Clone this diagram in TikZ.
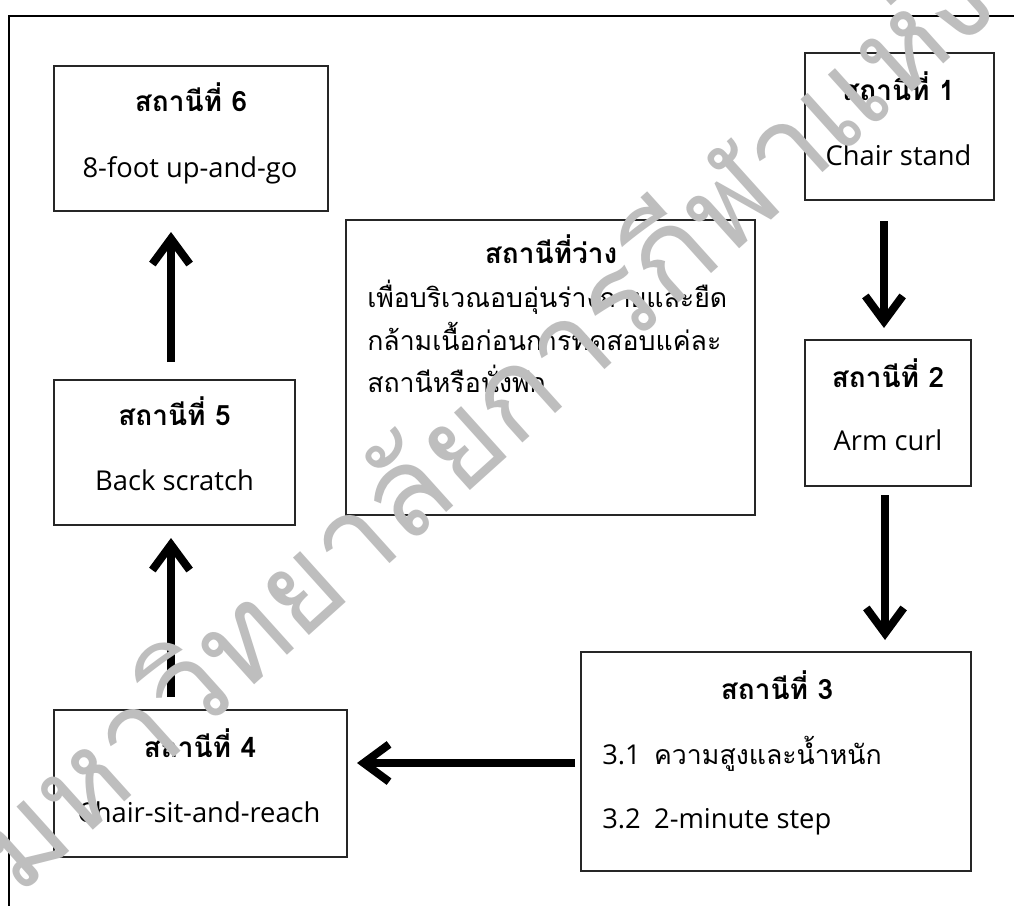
\documentclass[tikz,border=0pt]{standalone}
\usepackage{fontspec}
\setmainfont{Open Sans}
\newfontfamily\thai[Script=Thai]{Loma}
\usetikzlibrary{arrows.meta}
\definecolor{wmgray}{RGB}{190,190,190}
\begin{document}
\begin{tikzpicture}[x=0.75pt,y=-0.75pt,
  box/.style={draw=black!85, line width=0.9pt, rectangle, inner sep=0pt, outer sep=0pt},
  ttl/.style={anchor=base, font=\thai\bfseries\fontsize{21pt}{24pt}\selectfont, inner sep=0pt},
  sub/.style={anchor=base, font=\fontsize{20.5pt}{24pt}\selectfont, inner sep=0pt},
  thl/.style={anchor=base west, font=\thai\fontsize{20pt}{24pt}\selectfont, inner sep=0pt},
  arr/.style={line width=6pt, -{Straight Barb[length=19pt, width=28pt]}},
  wm/.style={font=\thai\fontsize{92pt}{110pt}\selectfont, text=wmgray, inner sep=0pt}]
\useasboundingbox (0,0) rectangle (1014,906);
\fill[white] (0,0) rectangle (1014,906);
% outer frame
\draw[line width=1pt] (9,906) -- (9,16) -- (1014,16);
% boxes
\node[box, minimum width=205.5pt, minimum height=108.75pt] (b6) at (191,138.5) {};
\node[box, minimum width=180.75pt, minimum height=108.75pt] (b5) at (174.5,452.5) {};
\node[box, minimum width=219.75pt, minimum height=110.25pt] (b4) at (200.5,783.5) {};
\node[box, minimum width=292.5pt, minimum height=164.25pt] (b3) at (776,761.5) {};
\node[box, minimum width=124.5pt, minimum height=109.5pt] (b2) at (888,413) {};
\node[box, minimum width=141.75pt, minimum height=110.25pt] (b1) at (899.5,126.5) {};
\node[box, minimum width=306.75pt, minimum height=221.25pt] (bw) at (550.5,367.5) {};
% texts
\node[ttl] (t6) at (191,112) {สถานีที่ 6};
\node[sub] (s6) at (190,177) {8-foot up-and-go};
\node[ttl] (t5) at (174.5,425) {สถานีที่ 5};
\node[sub] (s5) at (174.5,490) {Back scratch};
\node[ttl] (t4) at (200,757) {สถานีที่ 4};
\node[sub] (s4) at (199,822) {Chair-sit-and-reach};
\node[ttl] (t1) at (898.5,100) {สถานีที่ 1};
\node[sub] (s1) at (898.5,165) {Chair stand};
\node[ttl] (t2) at (888,387) {สถานีที่ 2};
\node[sub] (s2) at (888,450) {Arm curl};
\node[ttl] (t3) at (777,699) {สถานีที่ 3};
\node[sub, anchor=base west] (s31) at (602,764) {3.1\hspace{10pt}{\thai\fontsize{20pt}{24pt}\selectfont ความสูงและน้ำหนัก}};
\node[sub, anchor=base west] (s32) at (602,828) {3.2\hspace{10pt}2-minute step};
\node[ttl] (tw) at (551,263) {สถานีที่ว่าง};
\node[thl] (w1) at (367,307) {เพื่อบริเวณอบอุ่นร่างกายและยืด};
\node[thl] (w2) at (367,350) {กล้ามเนื้อก่อนการทดสอบแค่ละ};
\node[thl] (w3) at (367,392) {สถานีหรือนั่งพัก};
% arrows
\draw[arr] ([xshift=-2.625pt,yshift=13.5pt]b5.north) -- ([xshift=-15pt,yshift=-15.75pt]b6.south);
\draw[arr] ([xshift=-22.125pt,yshift=9.75pt]b4.north) -- ([xshift=-2.625pt,yshift=-9.75pt]b5.south);
\draw[arr] ([xshift=-4.5pt,yshift=-1.125pt]b3.west) -- ([xshift=7.5pt,yshift=15.375pt]b4.east);
\draw[arr] ([xshift=-11.625pt,yshift=-15.75pt]b1.south) -- ([xshift=-3pt,yshift=9pt]b2.north);
\draw[arr] ([xshift=-2.25pt,yshift=-6.75pt]b2.south) -- ([xshift=81.75pt,yshift=9pt]b3.north);
% watermark
\node[wm, rotate=42, anchor=base west] (wmark) at (18,898) {มหาวิทยาลัยการกีฬาแห่งชาติ};
\end{tikzpicture}
\end{document}
